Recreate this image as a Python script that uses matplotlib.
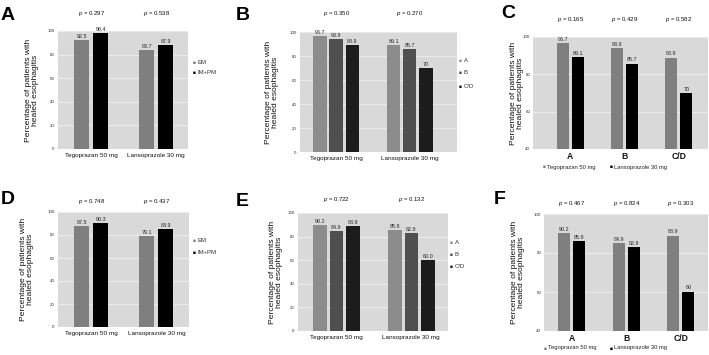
import matplotlib
matplotlib.use("Agg")
import matplotlib.pyplot as plt

plt.rcParams['font.family'] = ['Liberation Sans', 'DejaVu Sans']
plt.rcParams['mathtext.fontset'] = 'custom'
plt.rcParams['mathtext.it'] = 'Liberation Sans:italic'
plt.rcParams['mathtext.rm'] = 'Liberation Sans'

# ---------------- data ----------------
drugs = ["Tegoprazan 50 mg", "Lansoprazole 30 mg"]
genotypes = ["EM", "IM+PM"]
grades = ["A", "B", "C/D"]

# Panel A: by CYP2C19 genotype
a_em = [92.5, 83.7]
a_impm = [98.4, 87.9]
a_p = ["0.297", "0.538"]

# Panel B: by LA grade (within drug)
b_A = [96.7, 89.1]
b_B = [93.9, 85.7]
b_CD = [88.9, 70]
b_labels = [["96.7", "89.1"], ["93.9", "85.7"], ["88.9", "70"]]
b_p = ["0.350", "0.270"]

# Panel C: by LA grade (between drugs)
c_teg = [96.7, 93.9, 88.9]
c_lan = [89.1, 85.7, 70]
c_teg_lab = ["96.7", "93.9", "88.9"]
c_lan_lab = ["89.1", "85.7", "70"]
c_p = ["0.165", "0.429", "0.582"]

# Panel D: by genotype
d_em = [87.5, 79.1]
d_impm = [90.3, 84.9]
d_p = ["0.748", "0.437"]

# Panel E: by LA grade (within drug)
e_A = [90.2, 85.9]
e_B = [84.9, 82.9]
e_CD = [88.9, 60.0]
e_labels = [["90.2", "85.9"], ["84.9", "82.9"], ["88.9", "60.0"]]
e_p = ["0.722", "0.132"]

# Panel F: by LA grade (between drugs)
f_teg = [90.2, 84.9, 88.9]
f_lan = [85.9, 82.9, 60]
f_teg_lab = ["90.2", "84.9", "88.9"]
f_lan_lab = ["85.9", "82.9", "60"]
f_p = ["0.467", "0.824", "0.303"]

ylabel = "Percentage of patients with\nhealed esophagitis"

# ---------------- style ----------------
W, H = 709, 355
fig = plt.figure(figsize=(W / 100, H / 100), dpi=100)
fig.patch.set_facecolor("white")

BG = "#d9d9d9"
GRID = "#e9e9e9"
GRAY2 = "#7f7f7f"
BLACK = "#000000"
G3 = ["#8c8c8c", "#4f4f4f", "#1c1c1c"]


def fx(x):
    return x / W


def fy(y):
    return 1 - y / H


def make_ax(x0, y0, x1, y1):
    ax = fig.add_axes([fx(x0), fy(y1), fx(x1) - fx(x0), fy(y0) - fy(y1)])
    ax.set_facecolor(BG)
    for s in ax.spines.values():
        s.set_visible(False)
    ax.tick_params(length=0, labelsize=3.2, pad=2.5, colors="#333333")
    ax.set_axisbelow(True)
    ax.yaxis.grid(True, color=GRID, linewidth=0.9)
    return ax


def ftext(x, y, s, **kw):
    fig.text(fx(x), fy(y), s, **kw)


def sq_legend(items, x, ys, fs=4.3):
    for (lab, col), y in zip(items, ys):
        ftext(x, y, "\u25A0", fontsize=3.5, color=col, va="center", ha="left")
        ftext(x + 4.5, y, lab, fontsize=fs, color="#333333", va="center", ha="left")


def barlabels(ax, xs, vals, labs, fs=3.9):
    for x, v, l in zip(xs, vals, labs):
        ax.text(x, v + 0.8, l, ha="center", va="bottom", fontsize=fs, color="#222222")


def ylab(x, y, ax_fs=6.1):
    ftext(x, y, ylabel, rotation=90, ha="center", va="center", fontsize=ax_fs,
          linespacing=1.0, color="#111111")


def ptext(x, y, p, fs=4.3):
    ftext(x, y, r"$\it{p}$ = " + p, ha="center", va="center", fontsize=fs, color="#111111")


def panel_letter(x, y, s):
    ftext(x, y, s, fontsize=14, fontweight="bold", ha="left", va="center")


# ---------------- Panel A / D (genotype) ----------------
def geno_panel(box, em, impm, p, letter, lx, ly, ylx, py, legy, xlim):
    ax = make_ax(*box)
    xs = [0, 1]
    w, off = 0.23, 0.145
    ax.bar([x - off for x in xs], em, w, color=GRAY2, zorder=2)
    ax.bar([x + off for x in xs], impm, w, color=BLACK, zorder=2)
    barlabels(ax, [x - off for x in xs], em, [f"{v}" for v in em])
    barlabels(ax, [x + off for x in xs], impm, [f"{v}" for v in impm])
    ax.set_ylim(0, 100)
    ax.set_yticks(range(0, 101, 20))
    ax.set_xlim(*xlim)
    ax.set_xticks(xs)
    ax.set_xticklabels(drugs, fontsize=4.6, color="#111111")
    ax.tick_params(axis="x", pad=3)
    cx = [ax.transData.transform((x, 0))[0] for x in xs]
    for c, pv in zip(cx, p):
        ptext(c, py, pv)
    panel_letter(lx, ly, letter)
    ylab(ylx, (box[1] + box[3]) / 2)
    sq_legend(list(zip(genotypes, [GRAY2, BLACK])), 193, legy)
    return ax


# ---------------- Panel B / E (grade within drug) ----------------
def grade_panel(box, vals, labs, p, letter, lx, ly, ylx, py, legy, xlim):
    ax = make_ax(*box)
    xs = [0, 1]
    w, step = 0.18, 0.22
    for i, (v, l) in enumerate(zip(vals, labs)):
        pos = [x + (i - 1) * step for x in xs]
        ax.bar(pos, v, w, color=G3[i], zorder=2)
        barlabels(ax, pos, v, l)
    ax.set_ylim(0, 100)
    ax.set_yticks(range(0, 101, 20))
    ax.set_xlim(*xlim)
    ax.set_xticks(xs)
    ax.set_xticklabels(drugs, fontsize=4.6, color="#111111")
    ax.tick_params(axis="x", pad=3)
    cx = [ax.transData.transform((x, 0))[0] for x in xs]
    for c, pv in zip(cx, p):
        ptext(c, py, pv)
    panel_letter(lx, ly, letter)
    ylab(ylx, (box[1] + box[3]) / 2)
    sq_legend(list(zip(grades, G3)), box[2] + 2, legy)
    return ax


# ---------------- Panel C / F (drug within grade) ----------------
def drug_panel(box, teg, lan, tl, ll, p, letter, lx, ly, ylx, py, legy, legx, xlim):
    ax = make_ax(*box)
    xs = [0, 1, 2]
    w, off = 0.22, 0.14
    ax.bar([x - off for x in xs], teg, w, color=GRAY2, zorder=2)
    ax.bar([x + off for x in xs], lan, w, color=BLACK, zorder=2)
    barlabels(ax, [x - off for x in xs], teg, tl)
    barlabels(ax, [x + off for x in xs], lan, ll)
    ax.set_ylim(40, 100)
    ax.set_yticks(range(40, 101, 20))
    ax.set_xlim(*xlim)
    ax.set_xticks(xs)
    ax.set_xticklabels(grades, fontsize=6.2, fontweight="bold", color="#111111")
    ax.tick_params(axis="x", pad=2)
    ax.tick_params(axis="y", pad=2)
    cx = [ax.transData.transform((x, 0))[0] for x in xs]
    for c, pv in zip(cx, p):
        ptext(c, py, pv)
    panel_letter(lx, ly, letter)
    ylab(ylx, (box[1] + box[3]) / 2)
    for lab, col, x in zip(drugs, [GRAY2, BLACK], legx):
        ftext(x, legy, "\u25A0", fontsize=3.5, color=col, va="center", ha="left")
        ftext(x + 4, legy, lab, fontsize=4.2, color="#222222", va="center", ha="left")
    return ax


fig.canvas.draw()

geno_panel((58, 31, 188, 149), a_em, a_impm, a_p, "A", 1, 15, 32, 14, [62, 72], (-0.51, 1.49))
grade_panel((300, 32, 457, 152), [b_A, b_B, b_CD], b_labels, b_p, "B", 236, 15, 272, 14,
            [61, 73, 86], (-0.49, 1.64))
drug_panel((533, 37, 708, 149), c_teg, c_lan, c_teg_lab, c_lan_lab, c_p, "C", 501, 13, 517, 20,
           167, [543, 610], (-0.69, 2.54))

geno_panel((58, 212, 189, 327), d_em, d_impm, d_p, "D", 1, 200, 27, 202, [241, 252], (-0.51, 1.5))
grade_panel((298, 213, 448, 331), [e_A, e_B, e_CD], e_labels, e_p, "E", 236, 201, 276, 200,
            [243, 254, 266], (-0.51, 1.49))
drug_panel((544, 214, 708, 331), f_teg, f_lan, f_teg_lab, f_lan_lab, f_p, "F", 494, 200, 518, 203,
           348, [544, 610], (-0.51, 2.5))

fig.savefig("out.png", dpi=100, facecolor="white")
